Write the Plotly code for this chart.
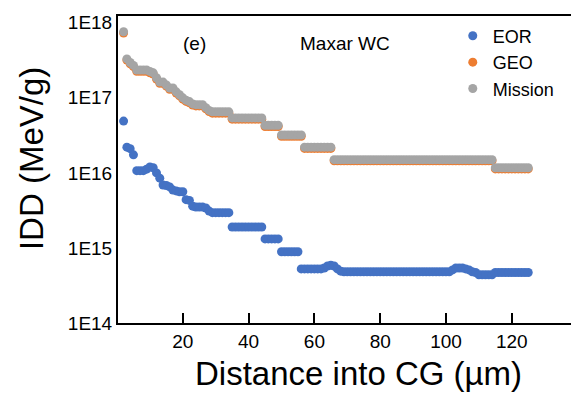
import plotly.graph_objects as go

distance_um = list(range(2, 126))

mission = [
    7.6e17, 3.3e17, 2.95e17, 2.7e17,
    2.35e17, 2.35e17, 2.35e17, 2.35e17,
    2.25e17, 2.15e17, 1.85e17, 1.62e17, 1.62e17, 1.48e17, 1.35e17, 1.35e17,
    1.2e17, 1.1e17, 1.0e17, 9.3e16, 8.9e16, 8.3e16,
    8.1e16, 8.1e16, 8.1e16,
    7.4e16, 6.8e16,
    6.5e16, 6.5e16, 6.5e16, 6.5e16, 6.5e16, 6.5e16,
    5.4e16, 5.4e16, 5.4e16, 5.4e16, 5.4e16, 5.4e16, 5.4e16, 5.4e16, 5.4e16, 5.4e16,
    4.3e16, 4.3e16, 4.3e16, 4.3e16, 4.3e16,
    3.2e16, 3.2e16, 3.2e16, 3.2e16, 3.2e16, 3.2e16, 3.2e16,
    2.2e16, 2.2e16, 2.2e16, 2.2e16, 2.2e16, 2.2e16, 2.2e16, 2.2e16, 2.2e16,
    1.5e16, 1.5e16, 1.5e16, 1.5e16, 1.5e16, 1.5e16, 1.5e16, 1.5e16, 1.5e16, 1.5e16,
    1.5e16, 1.5e16, 1.5e16, 1.5e16, 1.5e16, 1.5e16, 1.5e16, 1.5e16, 1.5e16, 1.5e16,
    1.5e16, 1.5e16, 1.5e16, 1.5e16, 1.5e16, 1.5e16, 1.5e16, 1.5e16, 1.5e16, 1.5e16,
    1.5e16, 1.5e16, 1.5e16, 1.5e16, 1.5e16, 1.5e16, 1.5e16, 1.5e16, 1.5e16, 1.5e16,
    1.5e16, 1.5e16, 1.5e16, 1.5e16, 1.5e16, 1.5e16, 1.5e16, 1.5e16, 1.5e16,
    1.17e16, 1.17e16, 1.17e16, 1.17e16, 1.17e16, 1.17e16, 1.17e16, 1.17e16, 1.17e16, 1.17e16, 1.17e16,
]

geo = [
    7.3e17, 3.18e17, 2.84e17, 2.6e17,
    2.26e17, 2.26e17, 2.26e17, 2.26e17,
    2.16e17, 2.07e17, 1.78e17, 1.56e17, 1.56e17, 1.43e17, 1.3e17, 1.3e17,
    1.16e17, 1.06e17, 9.6e16, 8.95e16, 8.6e16, 8.0e16,
    7.8e16, 7.8e16, 7.8e16,
    7.15e16, 6.55e16,
    6.25e16, 6.25e16, 6.25e16, 6.25e16, 6.25e16, 6.25e16,
    5.2e16, 5.2e16, 5.2e16, 5.2e16, 5.2e16, 5.2e16, 5.2e16, 5.2e16, 5.2e16, 5.2e16,
    4.15e16, 4.15e16, 4.15e16, 4.15e16, 4.15e16,
    3.08e16, 3.08e16, 3.08e16, 3.08e16, 3.08e16, 3.08e16, 3.08e16,
    2.12e16, 2.12e16, 2.12e16, 2.12e16, 2.12e16, 2.12e16, 2.12e16, 2.12e16, 2.12e16,
    1.45e16, 1.45e16, 1.45e16, 1.45e16, 1.45e16, 1.45e16, 1.45e16, 1.45e16, 1.45e16, 1.45e16,
    1.45e16, 1.45e16, 1.45e16, 1.45e16, 1.45e16, 1.45e16, 1.45e16, 1.45e16, 1.45e16, 1.45e16,
    1.45e16, 1.45e16, 1.45e16, 1.45e16, 1.45e16, 1.45e16, 1.45e16, 1.45e16, 1.45e16, 1.45e16,
    1.45e16, 1.45e16, 1.45e16, 1.45e16, 1.45e16, 1.45e16, 1.45e16, 1.45e16, 1.45e16, 1.45e16,
    1.45e16, 1.45e16, 1.45e16, 1.45e16, 1.45e16, 1.45e16, 1.45e16, 1.45e16, 1.45e16,
    1.13e16, 1.13e16, 1.13e16, 1.13e16, 1.13e16, 1.13e16, 1.13e16, 1.13e16, 1.13e16, 1.13e16, 1.13e16,
]

eor = [
    4.9e16, 2.2e16, 2.1e16, 1.74e16,
    1.07e16, 1.07e16, 1.07e16, 1.12e16, 1.2e16, 1.17e16, 1.0e16, 8.5e15,
    6.9e15, 6.8e15, 6.5e15, 5.9e15, 5.75e15, 5.6e15, 5.6e15, 4.4e15, 4.3e15, 3.6e15,
    3.5e15, 3.5e15, 3.5e15,
    3.4e15, 3.1e15,
    2.95e15, 2.95e15, 2.95e15, 2.95e15, 2.95e15, 2.95e15,
    1.9e15, 1.9e15, 1.9e15, 1.9e15, 1.9e15, 1.9e15, 1.9e15, 1.9e15, 1.9e15, 1.9e15,
    1.32e15, 1.32e15, 1.32e15, 1.32e15, 1.32e15,
    8.9e14, 8.9e14, 8.9e14, 8.9e14, 8.9e14, 8.9e14,
    5.25e14, 5.25e14, 5.25e14, 5.25e14, 5.25e14, 5.25e14, 5.25e14,
    5.4e14, 5.75e14, 5.9e14, 5.75e14, 5.25e14, 4.9e14,
    4.8e14, 4.8e14, 4.8e14, 4.8e14, 4.8e14, 4.8e14, 4.8e14, 4.8e14, 4.8e14, 4.8e14, 4.8e14,
    4.8e14, 4.8e14, 4.8e14, 4.8e14, 4.8e14, 4.8e14, 4.8e14, 4.8e14, 4.8e14, 4.8e14, 4.8e14,
    4.8e14, 4.8e14, 4.8e14, 4.8e14, 4.8e14, 4.8e14, 4.8e14, 4.8e14, 4.8e14, 4.8e14, 4.8e14,
    5.1e14, 5.4e14, 5.4e14, 5.4e14,
    5.25e14, 5.1e14, 4.8e14, 4.7e14,
    4.4e14, 4.4e14, 4.4e14, 4.4e14, 4.4e14,
    4.7e14, 4.7e14, 4.7e14, 4.7e14, 4.7e14, 4.7e14, 4.7e14, 4.7e14, 4.7e14, 4.7e14, 4.7e14,
]

assert len(mission) == len(distance_um), len(mission)
assert len(geo) == len(distance_um), len(geo)
assert len(eor) == len(distance_um), len(eor)

series_names = ["EOR", "GEO", "Mission"]
series_colors = ["#4472C4", "#ED7D31", "#A5A5A5"]
y_tick_vals = [1e14, 1e15, 1e16, 1e17, 1e18]
y_tick_text = ["1E14", "1E15", "1E16", "1E17", "1E18"]
x_tick_vals = [20, 40, 60, 80, 100, 120]
x_title = "Distance into CG (µm)"
y_title = "IDD (MeV/g)"

FONT = "Liberation Sans, Arial, sans-serif"

fig = go.Figure()
for name, vals, col in zip(series_names, [eor, geo, mission], series_colors):
    fig.add_trace(go.Scatter(
        x=distance_um, y=vals, mode="markers", name=name,
        marker=dict(color=col, size=9, line=dict(width=0)),
    ))

fig.update_layout(
    width=571, height=394,
    margin=dict(l=118, r=0, t=16, b=71),
    paper_bgcolor="white", plot_bgcolor="white",
    font=dict(family=FONT, color="black"),
    showlegend=True,
    legend=dict(x=0.739, y=0.995, xanchor="left", yanchor="top",
                font=dict(size=18, family=FONT), bgcolor="rgba(0,0,0,0)",
                itemsizing="trace", tracegroupgap=0),
    xaxis=dict(
        range=[0.3, 138], tickvals=x_tick_vals, ticks="inside", ticklen=10,
        tickwidth=2, tickcolor="black", showline=True, linewidth=2,
        linecolor="black", mirror=True, showgrid=False, zeroline=False,
        tickfont=dict(size=19, family=FONT),
    ),
    yaxis=dict(
        type="log", range=[14, 18.09], tickvals=y_tick_vals, ticktext=y_tick_text,
        ticks="", showline=True, linewidth=2, linecolor="black",
        showgrid=False, zeroline=False,
        tickfont=dict(size=19, family=FONT),
    ),
    annotations=[
        dict(x=23.7, y=17.73, xref="x", yref="y", text="(e)", showarrow=False,
             font=dict(size=19, family=FONT)),
        dict(x=69.3, y=17.73, xref="x", yref="y", text="Maxar WC", showarrow=False,
             font=dict(size=19, family=FONT)),
        dict(x=0.532, y=-0.166, xref="paper", yref="paper", text=x_title,
             showarrow=False, xanchor="center", yanchor="middle",
             font=dict(size=33, family=FONT)),
        dict(x=-0.192, y=0.534, xref="paper", yref="paper", text=y_title,
             showarrow=False, xanchor="center", yanchor="middle", textangle=-90,
             font=dict(size=33, family=FONT)),
    ],
)

fig.write_html("out.html")
